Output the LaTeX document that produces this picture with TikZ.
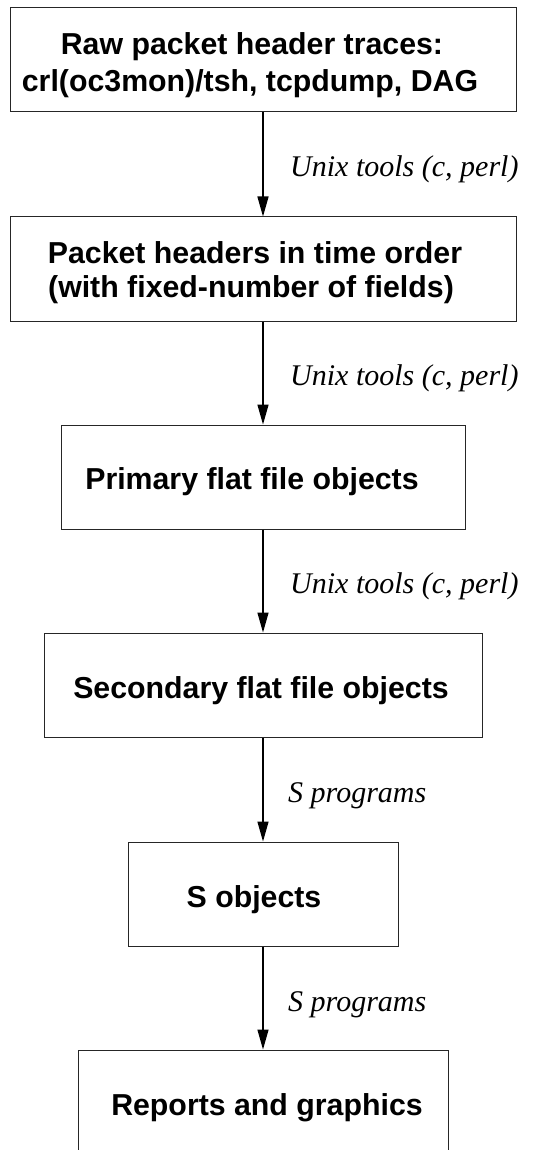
\documentclass[tikz,border=0pt]{standalone}
\usepackage{fontspec}
\setmainfont{Liberation Serif}
\setsansfont{Liberation Sans}
\usetikzlibrary{arrows.meta}
\begin{document}
\begin{tikzpicture}[x=1pt,y=-1pt,
  stagebox/.style={draw=black!85,line width=1pt,inner sep=0pt,minimum height=104pt},
  boxtext/.style={anchor=base,inner sep=0pt,font=\sffamily\bfseries\fontsize{30.3}{36}\selectfont},
  flowlabel/.style={anchor=base west,inner sep=0pt,font=\itshape\fontsize{30}{36}\selectfont},
  flowarrow/.style={line width=1.3pt,-{Triangle[length=20pt,width=11pt]}}]
\useasboundingbox (0,0) rectangle (539,1150);
\fill[white] (0,0) rectangle (539,1150);
% boxes
\node[stagebox,minimum width=506pt] (b1) at (263,60) {};
\node[stagebox,minimum width=506pt] (b2) at (263,269) {};
\node[stagebox,minimum width=404pt] (b3) at (263,477) {};
\node[stagebox,minimum width=438pt] (b4) at (263,685) {};
\node[stagebox,minimum width=270pt] (b5) at (263,894) {};
\node[stagebox,minimum width=370pt] (b6) at (263,1102) {};
% box texts
\node[boxtext] (t1a) at (252,55) {Raw packet header traces:};
\node[boxtext] (t1b) at (250,92) {crl(oc3mon)/tsh, tcpdump, DAG};
\node[boxtext] (t2a) at (255,263) {Packet headers in time order};
\node[boxtext] (t2b) at (251,297) {(with fixed-number of fields)};
\node[boxtext] (t3) at (252,489) {Primary flat file objects};
\node[boxtext] (t4) at (261,698) {Secondary flat file objects};
\node[boxtext] (t5) at (254,907) {S objects};
\node[boxtext] (t6) at (267,1115) {Reports and graphics};
% arrows
\draw[flowarrow] (b1.south) -- (b2.north);
\draw[flowarrow] (b2.south) -- (b3.north);
\draw[flowarrow] (b3.south) -- (b4.north);
\draw[flowarrow] (b4.south) -- (b5.north);
\draw[flowarrow] (b5.south) -- (b6.north);
% labels
\node[flowlabel] (l1) at (290,177) {Unix tools (c, perl)};
\node[flowlabel] (l2) at (290,385) {Unix tools (c, perl)};
\node[flowlabel] (l3) at (290,593) {Unix tools (c, perl)};
\node[flowlabel] (l4) at (288,802) {S programs};
\node[flowlabel] (l5) at (288,1011) {S programs};
\end{tikzpicture}
\end{document}
